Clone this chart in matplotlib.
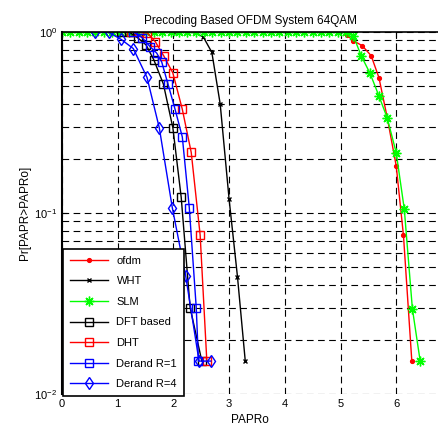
import numpy as np
import matplotlib
matplotlib.use('Agg')
import matplotlib.pyplot as plt

plt.rcParams['font.family'] = ['Liberation Sans', 'DejaVu Sans']
plt.rcParams['mathtext.fontset'] = 'custom'
plt.rcParams['mathtext.rm'] = 'Liberation Sans'
plt.rcParams['mathtext.it'] = 'Liberation Sans'

# ---- data (PAPRo in dB, CCDF) ----
ofdm_x = [5.11, 5.23, 5.39, 5.55, 5.69, 5.84, 6.00, 6.13, 6.28]
ofdm_y = [0.962, 0.895, 0.84, 0.74, 0.559, 0.335, 0.182, 0.0752, 0.0152]

wht_x = [2.01, 2.39, 2.54, 2.69, 2.84, 3.00, 3.15, 3.29]
wht_y = [0.999, 0.995, 0.935, 0.772, 0.40, 0.119, 0.0445, 0.0152]

slm_x = [0.0, 0.15, 0.30, 0.45, 0.60, 0.75, 0.90, 1.05, 1.20, 1.35, 1.50, 1.65,
         1.80, 1.95, 2.10, 2.25, 2.40, 2.55, 2.70, 2.85, 3.00, 3.15, 3.30, 3.45,
         3.60, 3.75, 3.90, 4.05, 4.20, 4.35, 4.50, 4.65, 4.80, 4.95, 5.10,
         5.23, 5.37, 5.53, 5.69, 5.84, 6.00, 6.145, 6.29, 6.43]
slm_y = [1.0] * 35 + [0.954, 0.74, 0.591, 0.443, 0.334, 0.215, 0.105, 0.0296, 0.0152]

dft_x = [1.06, 1.21, 1.37, 1.51, 1.65, 1.82, 1.99, 2.14, 2.30, 2.51]
dft_y = [1.0, 0.996, 0.923, 0.848, 0.70, 0.516, 0.296, 0.122, 0.030, 0.0152]

dht_x = [1.24, 1.38, 1.53, 1.675, 1.83, 1.99, 2.16, 2.32, 2.48, 2.60]
dht_y = [1.0, 0.998, 0.99, 0.884, 0.735, 0.594, 0.374, 0.216, 0.0756, 0.0152]

r1_x = [1.28, 1.44, 1.58, 1.70, 1.79, 1.90, 2.03, 2.16, 2.285, 2.41, 2.45]
r1_y = [1.0, 0.93, 0.83, 0.765, 0.683, 0.519, 0.374, 0.263, 0.107, 0.030, 0.0152]

r4_x = [0.59, 0.835, 1.06, 1.28, 1.526, 1.747, 1.98, 2.22, 2.46, 2.67]
r4_y = [1.0, 0.996, 0.911, 0.81, 0.561, 0.295, 0.107, 0.045, 0.0152, 0.0152]

fig = plt.figure(figsize=(4.38, 4.34), dpi=100)
ax = fig.add_axes([62 / 438, 40 / 434, 376 / 438, 362 / 434])

ax.semilogy(ofdm_x, ofdm_y, 'r.-', lw=1, ms=5.5, label='ofdm')
ax.semilogy(wht_x, wht_y, 'kx-', lw=1, ms=3.5, mew=1, label='WHT')
ax.semilogy(slm_x, slm_y, '-', color='#00ff00', marker=(8, 2, 0), lw=1, ms=7, mew=1.0, label='SLM')
ax.semilogy(dft_x, dft_y, 'ks-', lw=1, ms=5.5, mfc='none', label='DFT based')
ax.semilogy(dht_x, dht_y, 'rs-', lw=1, ms=5.5, mfc='none', label='DHT')
ax.semilogy(r1_x, r1_y, 'bs-', lw=1, ms=5.5, mfc='none', label='Derand R=1')
ax.semilogy(r4_x, r4_y, 'bd-', lw=1, ms=6, mfc='none', label='Derand R=4')

ax.set_xlim(0, 6.75)
ax.set_ylim(0.01, 1)
ax.set_xticks([0, 1, 2, 3, 4, 5, 6])
ax.grid(True, which='major', color='black', linestyle=(0, (6, 4)), lw=0.8)
ax.grid(True, which='minor', axis='y', color='black', linestyle=(0, (6, 4)), lw=0.8)
ax.tick_params(which='both', direction='in', top=True, bottom=False, right=False, labelsize=8)
ax.spines['bottom'].set_visible(False)
ax.spines['right'].set_visible(False)
ax.spines['left'].set_linewidth(1.5)
ax.spines['top'].set_linewidth(1.2)

ax.set_title('Precoding Based OFDM System 64QAM', fontsize=8.5, pad=6)
ax.set_xlabel('PAPRo', fontsize=8.5, labelpad=4)
ax.set_ylabel('Pr[PAPR>PAPRo]', fontsize=8.5, labelpad=2)

leg = ax.legend(loc='lower left', bbox_to_anchor=(0.003, -0.005), fontsize=8,
                fancybox=False, framealpha=1, edgecolor='black', handlelength=3.4,
                labelspacing=0.95, borderpad=0.6, borderaxespad=0)
leg.get_frame().set_linewidth(1.2)

fig.savefig('out.png', dpi=100)
